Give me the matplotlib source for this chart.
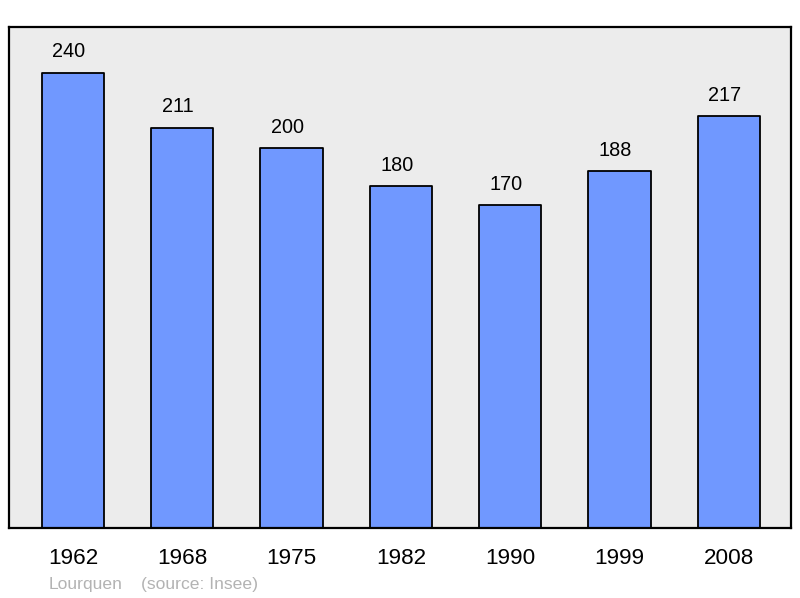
import matplotlib.pyplot as plt

plt.rcParams['font.family'] = ['Liberation Sans', 'DejaVu Sans']

years = ['1962', '1968', '1975', '1982', '1990', '1999', '2008']
population = [240, 211, 200, 180, 170, 188, 217]

fig = plt.figure(figsize=(8, 5.98), dpi=100)
ax = fig.add_axes([9 / 800, 70 / 598, 782 / 800, 501 / 598])
ax.set_facecolor('#ececec')

x = range(len(years))
ax.bar(x, population, width=0.57, color='#7098ff', edgecolor='black',
       linewidth=1.3, joinstyle='round')

for i, v in zip(x, population):
    ax.annotate(str(v), (i, v), xytext=(-3, 8), textcoords='offset points',
                ha='center', va='bottom', fontsize=14.3)

ax.set_xlim(-0.585, 6.57)
ax.set_ylim(0, 264)
ax.set_xticks(list(x))
ax.set_xticklabels(years, fontsize=16.2)
ax.tick_params(axis='x', length=0, pad=14.5)
ax.set_yticks([])
for s in ax.spines.values():
    s.set_linewidth(1.6)
    s.set_joinstyle('round')

fig.text(49 / 800, 1 - 584 / 598, 'Lourquen', fontsize=12.6, color='#b3b3b3', va='center')
fig.text(141 / 800, 1 - 584 / 598, '(source: Insee)', fontsize=12.6, color='#b3b3b3', va='center')

plt.savefig('out.png')
